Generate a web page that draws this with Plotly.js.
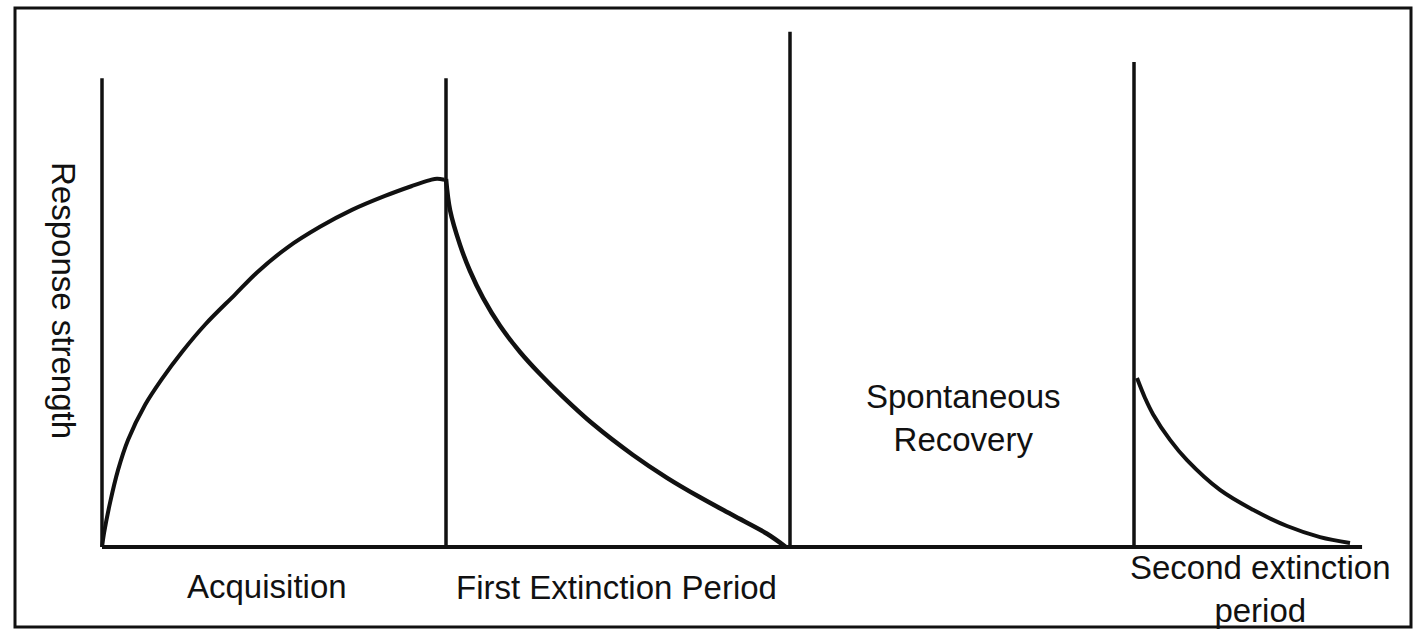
<!DOCTYPE html>
<html>
<head>
<meta charset="utf-8">
<script src="https://cdn.plot.ly/plotly-3.0.1.min.js"></script>
<style>
  html, body { margin: 0; padding: 0; background: #fff; }
  #chart { width: 1420px; height: 629px; }
</style>
</head>
<body>
<div id="chart"></div>
<script>
// ---- Data (trial units on x, response strength on y; peak = 100) ----
const acquisitionX = [0, 0.06, 0.233, 0.465, 0.756, 1.250, 1.744, 2.326, 2.994, 3.866, 4.506, 5.378, 6.337, 7.267, 8.227, 9.012, 9.535, 9.738, 9.95];
const acquisitionY = [0, 3.8, 12.0, 20.9, 29.1, 38.6, 45.7, 53.0, 60.4, 68.6, 74.6, 81.3, 87.0, 91.6, 95.4, 98.1, 99.7, 100.1, 99.8];

const extinction1X = [10.0, 10.116, 10.407, 10.698, 11.076, 11.570, 12.151, 12.733, 13.401, 14.273, 15.436, 16.424, 17.384, 18.343, 19.331, 19.88];
const extinction1Y = [100, 91.6, 82.1, 75.0, 67.7, 60.1, 53.0, 47.0, 40.8, 33.4, 25.0, 18.8, 13.5, 8.6, 3.6, 0];

const extinction2X = [30.087, 30.320, 30.552, 31.047, 31.541, 32.500, 33.459, 34.448, 35.407, 36.279];
const extinction2Y = [45.9, 40.5, 36.1, 29.1, 23.6, 15.5, 10.1, 5.7, 2.7, 1.1];

const dividerX   = [0, 10, 20, 30];
const dividerTop = [127.4, 127.4, 140.0, 131.8];

const baselineX = [0, 36.63];
const baselineY = [0, 0];

const periodLabels = ["Acquisition", "First Extinction Period", "Spontaneous<br>Recovery", "Second extinction<br>period"];
const yLabel = "Response strength";

// ---- Layout helpers (pixel mapping of the drawing) ----
const W = 1420, H = 629;
const X0PX = 102, XS = 34.4;   // px of x=0, px per unit
const Y0PX = 547, YS = 3.68;   // px of y=0, px per unit
const xr = [(0 - X0PX) / XS, (W - X0PX) / XS];
const yr = [(Y0PX - H) / YS, (Y0PX - 0) / YS];
const dx = px => (px - X0PX) / XS;
const dy = py => (Y0PX - py) / YS;

const ink = '#111';

// divider segments built from arrays
const divX = [], divY = [];
dividerX.forEach((x, i) => { divX.push(x, x, null); divY.push(0, dividerTop[i], null); });

const curve = (w) => ({ color: ink, width: w, shape: 'spline', smoothing: 1.0 });

const traces = [
  { x: divX, y: divY, mode: 'lines', line: { color: ink, width: 3.5 }, hoverinfo: 'skip' },
  { x: baselineX, y: baselineY, mode: 'lines', line: { color: ink, width: 4 }, hoverinfo: 'skip' },
  { x: acquisitionX, y: acquisitionY, mode: 'lines', line: curve(4), hoverinfo: 'skip' },
  { x: extinction1X, y: extinction1Y, mode: 'lines', line: curve(4.5), hoverinfo: 'skip' },
  { x: extinction2X, y: extinction2Y, mode: 'lines', line: curve(4), hoverinfo: 'skip' }
];

const font = { family: 'Liberation Sans, Arial, sans-serif', size: 33, color: ink };

const annotations = [
  { x: dx(267), y: dy(586), text: periodLabels[0] },
  { x: dx(616), y: dy(587), text: periodLabels[1] },
  { x: dx(963), y: dy(418), text: periodLabels[2] },
  { x: dx(1260), y: dy(589), text: periodLabels[3] },
  { x: dx(64), y: dy(300), text: yLabel, textangle: 90 }
].map(a => Object.assign({ xref: 'x', yref: 'y', showarrow: false, font: font,
  xanchor: 'center', yanchor: 'middle', align: 'center' }, a));

const layout = {
  width: W, height: H,
  margin: { l: 0, r: 0, t: 0, b: 0, pad: 0 },
  paper_bgcolor: '#fff', plot_bgcolor: '#fff',
  showlegend: false,
  xaxis: { range: xr, visible: false, fixedrange: true },
  yaxis: { range: yr, visible: false, fixedrange: true },
  annotations: annotations,
  shapes: [
    { type: 'rect', xref: 'paper', yref: 'paper',
      x0: 15 / W, x1: 1411 / W, y0: 1 - 627 / H, y1: 1 - 8 / H,
      line: { color: ink, width: 3 } }
  ]
};

Plotly.newPlot('chart', traces, layout, { staticPlot: true, displayModeBar: false });
</script>
</body>
</html>
